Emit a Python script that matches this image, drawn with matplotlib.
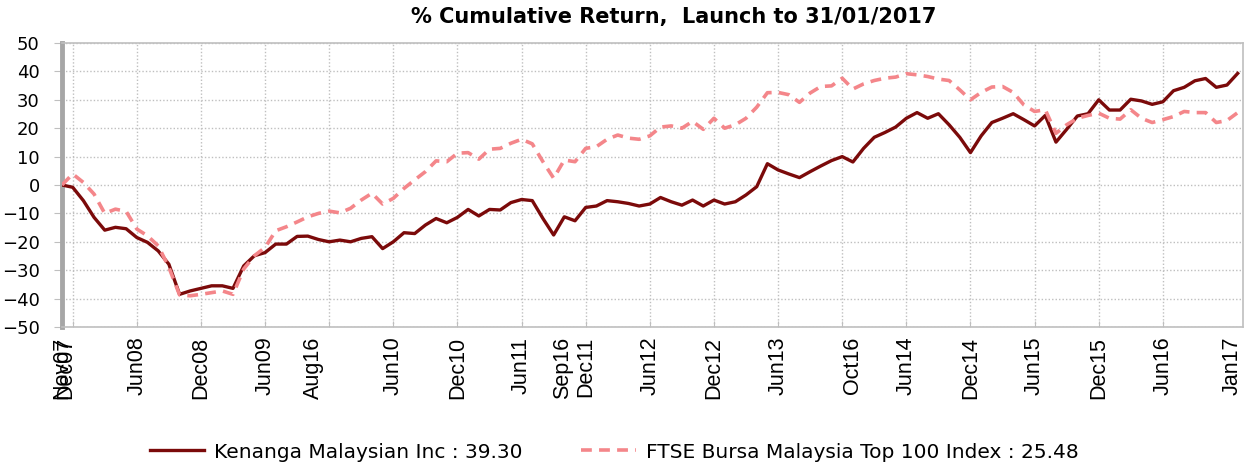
import numpy as np
import matplotlib
matplotlib.use('Agg')
import matplotlib.pyplot as plt

# monthly cumulative return (%), Nov07 .. Jan17
kenanga = [0, -0.8, -5.5, -11.4, -15.9, -14.9, -15.4, -18.5, -20.2, -23.2,
           -27.9, -38.5, -37.3, -36.4, -35.5, -35.5, -36.4, -28.5, -24.9, -23.8,
           -20.8, -20.8, -18.1, -18.0, -19.2, -20.0, -19.4, -20.0, -18.8, -18.2,
           -22.4, -20.0, -16.8, -17.1, -14.1, -11.8, -13.3, -11.4, -8.6, -10.9,
           -8.6, -8.8, -6.2, -5.1, -5.5, -11.8, -17.6, -11.2, -12.6, -7.9,
           -7.4, -5.5, -5.9, -6.5, -7.4, -6.7, -4.4, -5.9, -7.1, -5.3,
           -7.4, -5.3, -6.7, -5.9, -3.5, -0.6, 7.5, 5.3, 3.9, 2.6,
           4.7, 6.7, 8.6, 10.0, 8.1, 12.9, 16.8, 18.5, 20.4, 23.5,
           25.5, 23.5, 25.1, 21.2, 16.8, 11.4, 17.3, 22.0, 23.5, 25.1,
           23.0, 20.8, 24.5, 15.1, 19.6, 24.3, 25.1, 30.0, 26.4, 26.4,
           30.2, 29.6, 28.4, 29.3, 33.2, 34.4, 36.7, 37.5, 34.4, 35.2,
           39.3]
ftse = [0, 3.9, 0.9, -3.2, -10.0, -8.5, -9.3, -15.5, -17.9, -21.4,
        -29.0, -38.7, -39.0, -38.5, -37.9, -37.3, -38.5, -29.6, -24.9, -22.0,
        -16.1, -14.7, -13.0, -11.2, -10.0, -9.2, -9.8, -8.2, -5.3, -2.9,
        -6.7, -4.7, -1.2, 1.8, 4.7, 8.5, 8.2, 11.2, 11.4, 9.1,
        12.6, 12.9, 14.7, 16.1, 14.5, 8.2, 2.4, 8.8, 8.2, 12.9,
        13.5, 16.1, 17.6, 16.5, 16.1, 17.3, 20.4, 20.8, 20.0, 22.4,
        19.6, 23.5, 20.0, 21.2, 23.5, 27.4, 32.5, 32.6, 31.8, 29.1,
        32.4, 34.7, 34.9, 37.6, 33.8, 35.6, 36.8, 37.6, 38.0, 39.2,
        38.8, 38.2, 37.3, 36.8, 33.5, 30.0, 32.6, 34.5, 34.7, 32.6,
        28.2, 25.9, 26.5, 18.2, 21.2, 23.5, 24.5, 25.3, 23.5, 23.2,
        26.5, 23.5, 22.0, 23.0, 24.1, 25.9, 25.5, 25.5, 22.0, 22.7,
        25.48]

# tick labels (month index from Nov07)
grid_months = [1, 7, 13, 19, 25, 31, 37, 43, 49, 55, 61, 67, 73, 79, 85, 91, 97, 103]
grid_labels = ['', 'Jun08', 'Dec08', 'Jun09', '', 'Jun10', 'Dec10', 'Jun11', 'Dec11',
               'Jun12', 'Dec12', 'Jun13', '', 'Jun14', 'Dec14', 'Jun15', 'Dec15', 'Jun16']
extra_months = [0, 0.35, 23.5, 46.8, 74.0, 109.5]
extra_labels = ['Nov07', 'Dec07', 'Aug16', 'Sep16', 'Oct16', 'Jan17']

months = np.arange(len(kenanga))

fig = plt.figure(figsize=(12.5, 4.66), dpi=100)
ax = fig.add_axes([0.0496, 0.2983, 0.9448, 0.6094])

ax.plot(months, kenanga, color='#7B0A0A', lw=2.4, solid_joinstyle='round',
        label='Kenanga Malaysian Inc : 39.30', zorder=3)
ax.plot(months, ftse, color='#F4868A', lw=2.6, dashes=(3, 2),
        label='FTSE Bursa Malaysia Top 100 Index : 25.48', zorder=4)

ax.set_xlim(0, 110.5)
ax.set_ylim(-50, 50)
ax.set_yticks(np.arange(-50, 51, 10))

xfont = dict(family='Liberation Sans', size=15.5)
ax.set_xticks(grid_months)
ax.set_xticklabels(grid_labels, rotation=90, fontdict=xfont)
ax.set_xticks(extra_months, minor=True)
ax.set_xticklabels(extra_labels, minor=True, rotation=90, fontdict=xfont)
ax.tick_params(axis='x', which='major', direction='in', length=4, color='#BFBFBF', pad=7)
ax.tick_params(axis='x', which='minor', length=0, pad=7)
ax.tick_params(axis='y', direction='out', length=6, color='#BFBFBF', pad=10,
               labelsize=13)

ax.grid(True, which='major', color='#BFBFBF', lw=1, ls=(0, (1, 1.5)))
for s in ['top', 'right', 'bottom']:
    ax.spines[s].set_color('#BFBFBF')
    ax.spines[s].set_linewidth(1.2)
ax.spines['left'].set_color('#A6A6A6')
ax.spines['left'].set_linewidth(3.5)

fig.text(0.539, 0.963, '% Cumulative Return,  Launch to 31/01/2017',
         ha='center', va='center', fontsize=15, fontweight='bold')

fig.legend(loc='center left', bbox_to_anchor=(0.1136, 0.03), ncol=2, frameon=False,
           fontsize=14.5, handlelength=2.7, handletextpad=0.5, columnspacing=2.9,
           borderaxespad=0)

fig.savefig('out.png', dpi=100)
